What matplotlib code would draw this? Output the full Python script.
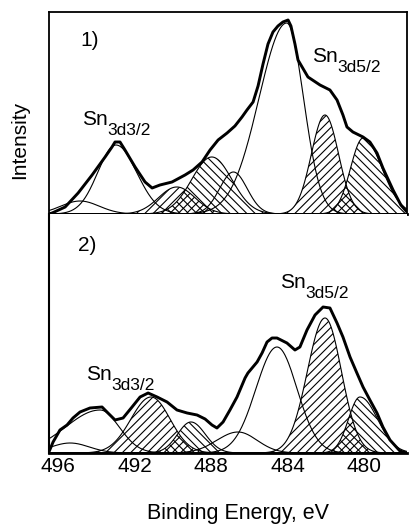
import numpy as np
import matplotlib
matplotlib.use('Agg')
import matplotlib.pyplot as plt

plt.rcParams['font.family'] = ['Liberation Sans', 'DejaVu Sans']
plt.rcParams['hatch.linewidth'] = 0.8

# ---------------------------------------------------------------------------
# data (binding energy in eV, intensity in arb. units)
# ---------------------------------------------------------------------------

# panel 1) measured envelope
env1_e = [496.50, 496.31, 495.63, 494.95, 494.22, 493.54, 493.18, 493.02, 492.76,
          492.50, 491.97, 491.45, 491.08, 490.67, 490.04, 489.36, 488.94, 488.47,
          488.05, 487.63, 487.16, 486.75, 486.38, 486.12, 485.80, 485.54, 485.28,
          485.02, 484.76, 484.50, 484.24, 483.97, 483.82, 483.61, 483.45, 482.93,
          482.30, 481.78, 481.41, 481.10, 480.89, 480.58, 480.05, 479.69, 479.32,
          479.01, 478.48, 478.07, 477.75]
env1_i = [0, 1, 7, 21, 39, 57, 67, 72, 72,
          64, 47, 32, 26, 29, 32, 39, 44, 52,
          64, 74, 81, 88, 97, 104, 112, 128, 150,
          170, 182, 188, 192, 194, 188, 170, 154, 137,
          129, 124, 114, 99, 87, 82, 77, 72, 61,
          46, 24, 9, 2]

# panel 1) fitted components: centre, height, width on high-eV side, width on low-eV side
p1_center = [494.85, 492.97, 489.79, 487.96, 486.83, 484.04, 482.04, 480.04]
p1_height = [13, 69, 27, 57, 42, 191, 99, 76]
p1_sig_hi = [1.0, 0.95, 0.95, 1.05, 0.72, 1.45, 0.71, 0.66]
p1_sig_lo = [1.0, 1.08, 0.95, 1.05, 0.72, 0.88, 0.71, 0.98]

# panel 2) measured envelope
env2_e = [496.50, 496.26, 495.90, 495.53, 495.22, 494.85, 494.33, 493.70, 493.39,
          493.02, 492.60, 492.13, 491.71, 491.29, 490.82, 490.30, 489.78, 489.25,
          488.73, 488.31, 487.95, 487.69, 487.37, 487.01, 486.64, 486.22, 486.07,
          485.59, 485.33, 485.07, 484.81, 484.55, 484.03, 483.61, 483.35, 482.98,
          482.56, 482.14, 481.78, 481.41, 481.10, 480.73, 480.37, 480.05, 479.69,
          479.32, 479.01, 478.64, 478.12, 477.75]
env2_i = [0, 11, 23, 28, 35, 41, 45, 46, 40,
          33, 35, 46, 56, 60, 56, 51, 43, 40,
          38, 34, 28, 25, 31, 43, 56, 75, 80,
          91, 100, 111, 115, 115, 110, 103, 106, 123,
          138, 146, 145, 130, 116, 96, 80, 66, 53,
          40, 26, 13, 2, 0]

p2_center = [495.37, 493.80, 491.14, 489.05, 486.59, 484.55, 482.04, 480.21]
p2_height = [10, 43, 56, 31, 21, 106, 135, 56]
p2_sig_hi = [1.0, 1.8, 1.05, 0.70, 1.1, 1.10, 0.92, 0.60]
p2_sig_lo = [1.0, 1.0, 1.00, 0.75, 1.0, 1.05, 0.86, 0.92]

xticks = [496, 492, 488, 484, 480]

# which components are hatched (None = plain thin line)
hatches = [None, None, '////', '\\\\\\\\', None, None, '////', '\\\\\\\\']


def peak(e, c, h, s_hi, s_lo):
    s = np.where(e >= c, s_hi, s_lo)
    return h * np.exp(-0.5 * ((e - c) / s) ** 2)


def draw_panel(ax, env_e, env_i, centers, heights, s_hi, s_lo):
    e = np.linspace(477.5, 496.7, 1200)
    for c, h, a, b, hat in zip(centers, heights, s_hi, s_lo, hatches):
        y = peak(e, c, h, a, b)
        if hat:
            ax.fill_between(e, 0, y, facecolor='none', edgecolor='k',
                            hatch=hat, linewidth=0.8, zorder=2)
        else:
            ax.plot(e, y, color='k', lw=0.8, zorder=3)
    ax.plot(env_e, env_i, color='k', lw=2.1, solid_joinstyle='round', zorder=4)
    ax.set_xlim(496.5, 477.75)
    ax.set_yticks([])
    ax.tick_params(axis='x', length=0, labelsize=15, pad=3)


def sn_label(ax, x, y, sub):
    ax.text(x, y, 'Sn', fontsize=15)
    ax.annotate(sub, (x, y), xytext=(18.5, -7), textcoords='offset points', fontsize=12.5)


fig = plt.figure(figsize=(4.09, 5.25), dpi=100)
ax1 = fig.add_axes([48.5 / 409, 1 - 214 / 525, (407 - 48.5) / 409, (214 - 12) / 525])
ax2 = fig.add_axes([48.5 / 409, 1 - 453 / 525, (407 - 48.5) / 409, (453 - 214) / 525])

draw_panel(ax1, env1_e, env1_i, p1_center, p1_height, p1_sig_hi, p1_sig_lo)
ax1.set_ylim(0, 202)
ax1.set_xticks([])
for s in ax1.spines.values():
    s.set_linewidth(1.3)
ax1.spines['bottom'].set_linewidth(2.0)

draw_panel(ax2, env2_e, env2_i, p2_center, p2_height, p2_sig_hi, p2_sig_lo)
ax2.set_ylim(0, 239)
ax2.set_xticks(xticks)
ax2.spines['top'].set_visible(False)
ax2.spines['right'].set_visible(False)
ax2.spines['left'].set_linewidth(1.5)
ax2.spines['bottom'].set_linewidth(2.0)

# labels
ax1.text(494.85, 168, '1)', fontsize=15)
ax2.text(494.95, 202, '2)', fontsize=15)
sn_label(ax1, 482.72, 152, '3d5/2')
sn_label(ax1, 494.75, 89, '3d3/2')
sn_label(ax2, 484.39, 165, '3d5/2')
sn_label(ax2, 494.54, 73, '3d3/2')

fig.text(20 / 409, 1 - 140 / 525, 'Intensity', rotation=90, fontsize=15,
         ha='center', va='center')
fig.text(238 / 409, 1 - 519 / 525, 'Binding Energy, eV', fontsize=15.5,
         ha='center', va='baseline')

fig.savefig('out.png', dpi=100)
